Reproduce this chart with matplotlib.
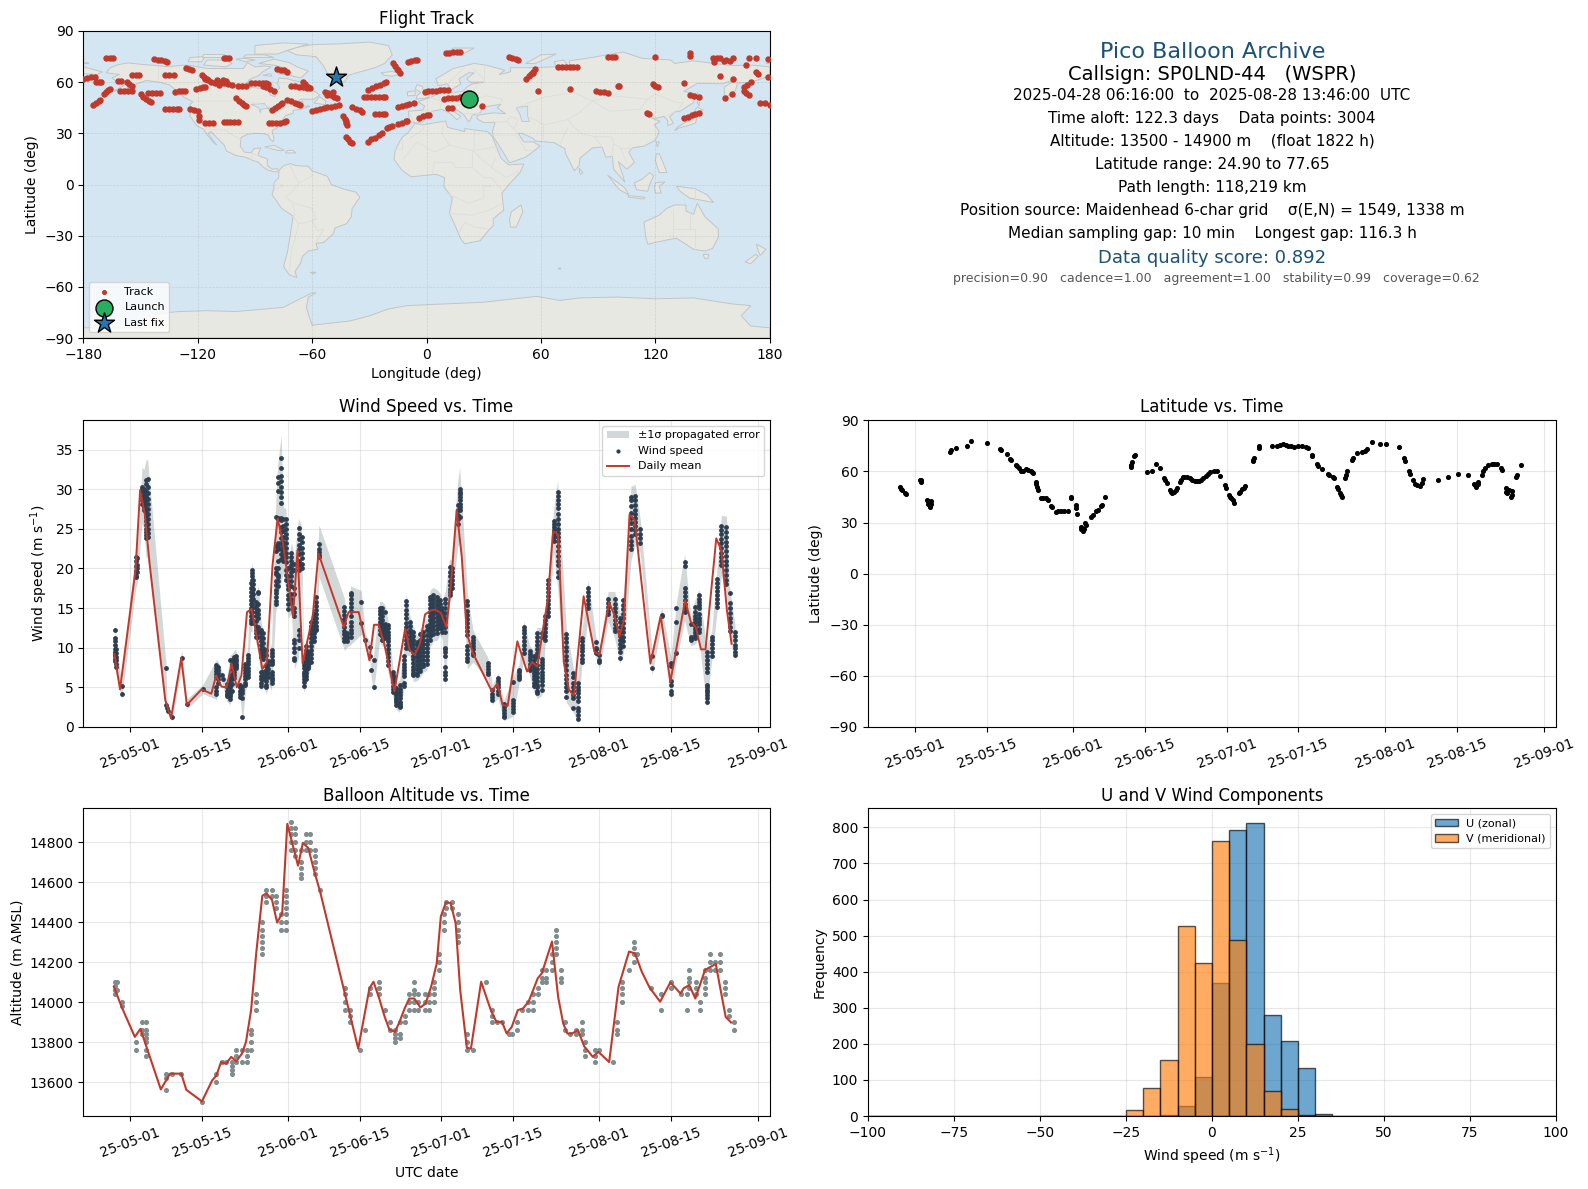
import numpy as np
import matplotlib
matplotlib.use('Agg')
import matplotlib.pyplot as plt
import matplotlib.dates as mdates

# track fixes, (lon, lat)
track = [
(-168,74),(-166,74),(-164.6,74),(-143,73.6),(-141,73.2),(-139,72.8),(-137,72.2),(-136,72),(-106.4,74),(-105,74),(-103.6,74),
(-180,61.7),(-178,62.2),(-176,62.8),(-174,63.3),(-173.4,60),(-172,60),(-170.5,60),(-162,60.5),(-160,60.5),(-157,60),(-156,59.2),(-154.6,58),
(-154.4,64),(-152.5,64),(-150.8,64),(-137,64),(-135,64),(-132.5,64),(-126,68.5),(-124.5,67.8),(-123,67),(-118,64),(-116.5,63),(-115,62),
(-116,61.7),(-114.5,61),(-113,60.2),(-111,59.4),(-110,61),(-108,60),(-106,59.5),(-104,59),(-102,58.4),(-109,58.6),(-107,61),(-105,60.5),(-99,58),(-97,58),(-94.6,58),
(-92,59.4),(-90,59.4),(-88,59.4),(-86,59.4),(-84,59.4),(-83,59.2),(-85.6,58),(-84,57),(-82,56),(-80,55),
(-78.5,68),(-76.5,67.4),(-75,67),(-73,66),(-71,58),(-69,57.8),(-67,57.3),(-65,57),(-62.5,56.5),(-65,60),(-64,59),(-63,58),(-62,57),(-61,56.5),
(-53,54.5),(-51.5,53.5),(-50,52.5),(-48.5,51.5),(-47,50.6),(-52,52.5),(-49,54),(-60,43.3),(-58,43.8),(-56,44.2),(-54,44.8),(-52,45.3),(-50,45.7),(-48,46.2),(-46,46.7),
(-73,49.6),(-71,49),(-69,48),(-67.5,47.2),(-66.6,46.7),(-81,43.7),(-79.5,45),(-78,46),(-76.5,47),(-75.6,47.6),
(-100,50.6),(-98.5,49),(-97,48),(-95.5,46.8),(-94.6,46),(-137,44.3),(-135,44.3),(-133,44.3),(-131,44.3),(-130,44.3),(-124,44),(-122,43.8),(-120,43),(-119.5,40),(-119.5,38),
(-116,36),(-114,36),(-112,36),(-106.4,36.5),(-104.5,36.5),(-103,36.5),(-101,36.5),(-99,36.5),(-82.7,36),(-81,36),(-79,36),(-77,36.3),(-75,36.8),(-73.7,37),
(-150,53),(-148.5,51.5),(-147,50),(-145.5,49),(-144.4,48.6),(-146,53.5),(-144,53.5),(-142,53.5),(-140,53.5),(-160.5,55),(-158.5,55),(-156.5,55),(-154.6,55),
(-132,54.5),(-130,54.8),(-128,55),(-126.6,55),(-121,56),(-119,56.5),(-117,57),(-116,57.4),(-169,53),(-168,54.5),(-167,55.5),(-165.8,56),(-175,46.7),(-173.5,48),(-172,49),(-171,49.6),
(-43.6,40),(-43,38.5),(-42.5,37),(-42,36),(-41.5,35),(-42,28),(-41,26.5),(-40,25),(-39,24.2),(-39,45.3),(-37,44.5),(-35,43.5),(-34,42.8),
(-30.5,25),(-29,26.5),(-27,27.5),(-25,29),(-23.4,30),(-21,33),(-19.5,33.7),(-18,34.4),(-15,35.5),(-13,36.2),(-11,37),(-10.3,37.3),(-4,39),(-2,40),(0,40.5),(1.5,41),
(-27,41.4),(-25,41.4),(-23,41.4),(-22,41.4),(-15,45.7),(-13,46.2),(-11,46.7),(-9,47.2),(-6.7,47.6),(-33,51.2),(-31,51.2),(-29,51.2),(-27,51.2),(-25,51.2),(-23,51.2),(-22,51.2),
(-30.5,55.4),(-28.5,56.5),(-26.5,57.5),(-24.5,58.5),(-22.5,59.5),(-21.5,60),(-17.5,71),(-16.5,69.5),(-15.5,68),(-15,67),(-14,65.6),(-9.6,72),(-8,72.3),(-6,72.8),(-4.9,73),
(-0.9,54.5),(1,54.6),(3,54.8),(5,55),(7,55.2),(9,55.3),(11,55.4),(9.4,50),(11.5,50.5),(13.5,50.8),(15.5,51),(17.5,51.2),(19.3,51.2),(11,44.7),(13.4,45),(29.3,46),
(10,77),(12,77.3),(14,77.5),(16,77.6),(17.4,77.65),(43,75),(45,74.2),(47,73.5),(48,73),(52,62),(53.5,63.5),(55,64.8),(56,66),(57,68),(56,65.5),
(69,68.7),(71,68.7),(73,68.7),(75,68.7),(77,68.7),(79,68.7),(58.3,54.7),(75,56),(89,54.7),(91,54.3),(93,54),(95,53.5),(95,75),(97,75),(99,75),(100.5,58),(101,57.5),
(119,59),(120,58),(121.4,57.4),(120,75),(115.5,42),(116.5,41.5),(135,39),(137,39.7),(139,40.5),(141,41.3),(143,42),(138,52.5),(140,52),(142.7,51.5),(135,59.4),(138,77),(138.3,75.5),
(150,74),(151,72),(152.5,74),(154,74),(156,72.5),(157,73),(159,72.5),(160.5,74),(169,74.4),(173,74),(179,73.4),(154,63.6),(160.5,61.7),(167.6,70),(173,66),(174,65),
(166.5,57.4),(168,58.5),(170,60),(166.5,55),(167.5,53.5),(169,52.5),(156.3,51),(160,53),(175,48),(177.5,47.5),(180,46.7),(179,63),
]
launch = (22.2, 50.0)
last_fix = (-47.6, 63.3)

# coastline outlines for the base map, (lon, lat)
north_america = [(-168,65.5),(-166,68.3),(-162,70.2),(-156.5,71.3),(-150,70.5),(-141,69.7),(-135,69),(-128,70),(-124,69.8),(-115,68),(-108,68),(-100,68),(-96,68),(-94,71.5),(-90,69),(-85,69.5),(-81.5,69),(-86,66),(-88,64),(-93,61.5),(-94.5,59),(-92.5,57),(-88,56.5),(-82.5,55),(-82,52.5),(-79.5,51.5),(-79,54.5),(-77,56.5),(-78,59),(-77.5,62.4),(-73,62),(-70,61),(-65,60),(-62,57),(-56,52.5),(-59,50),(-66,50),(-70,47),(-65,49),(-64.5,46),(-61,46),(-66,44),(-70,43.5),(-70,41.7),(-74,40.5),(-76,37),(-76,35),(-81,31.5),(-80,27),(-80.5,25.2),(-82,26.5),(-83,29),(-85,29.7),(-89.5,30),(-94,29.5),(-97.3,27.5),(-97.7,22.5),(-95.5,19),(-92,18.5),(-90.5,21),(-87,21.5),(-88.5,17),(-83.5,15),(-83.5,11),(-81,9),(-78,9.3),(-77.5,7.5),(-80,7.5),(-83,8.3),(-86,10.5),(-88,13),(-92,14.5),(-95,16),(-100,17),(-105,19.7),(-106,23),(-110,27.5),(-113,31),(-114.7,30),(-110,23),(-112,25),(-115,29),(-117,32.5),(-120.5,34.5),(-124,40),(-124,47),(-122.5,48.5),(-127,51),(-131,55),(-135,58.5),(-140,60),(-147,61),(-152,59),(-158,56),(-164,54.7),(-158,58.5),(-162,60),(-165,62.5),(-161,64.5)]
greenland = [(-73,78.5),(-68,80.5),(-60,82),(-45,82.5),(-30,83.5),(-20,81.5),(-18,76),(-22,71),(-27,68.5),(-35,66),(-41,64),(-43,60),(-48,61),(-52,65),(-54,69.5),(-58,75),(-68,76)]
south_america = [(-77.5,8),(-75,11),(-71.5,12.2),(-68,11),(-62,10.7),(-60,8),(-52,4.8),(-50,0),(-44,-2.5),(-37,-4.5),(-35,-7.5),(-39,-14),(-39.5,-19),(-42,-23),(-48,-25.5),(-49,-29),(-54,-34),(-58,-34.5),(-57,-38),(-62,-39),(-65,-42),(-66,-46),(-69,-51),(-68,-54.5),(-72,-53),(-75,-48),(-73,-40),(-71.5,-30),(-70,-18.5),(-76,-14),(-81,-6),(-80,-2),(-80,1),(-77.5,4)]
africa = [(-6,35.8),(-2,35),(10,37.2),(11,33.5),(20,31),(20,32.8),(25,32),(32,31),(34.5,28),(37,21),(39,15.5),(43,11.5),(51,12),(49,7),(44,1),(39.5,-5),(40.5,-15),(35,-20),(35,-24),(32.5,-27),(28,-33),(20,-34.8),(18,-32),(14.5,-23),(12,-17),(13.5,-8),(9,-1),(9.5,4),(5,6),(-4,5),(-8,4.5),(-13,8.5),(-17,14.7),(-16.5,20),(-13,27.5),(-10,30)]
eurasia = [(-9,37),(-9.5,43),(-2,43.5),(-1,46),(-4.5,48.5),(2,51),(8,54),(8.5,57),(11,56),(10,54),(14,54),(19,54.5),(21,57),(24,59),(30,60),(23,60),(21,62),(25,65.5),(22,65.5),(17,62),(18,59),(13,55.5),(11,59),(6,58),(5,62),(14,68),(25,71),(31,70),(41,67),(38,64.5),(44,66),(44,68.5),(54,68.5),(68,69),(67,72),(72,73),(75,68),(75,72.5),(87,74.5),(103,77.7),(113,74),(128,73),(130,71),(140,72.5),(160,69.7),(170,70),(180,69),(180,65),(177,62.5),(170,60),(163,59.5),(162,55),(156.5,51),(156,57),(163,62),(155,59),(142,59.3),(135,54.7),(141,53),(140,48),(133,43),(130,42.5),(127.5,39.5),(129.5,36),(126.5,34.5),(126.5,37.5),(124.5,40),(121,39),(118,39),(122.5,37),(119.5,35),(122,31),(120,26),(114,22.5),(108,21.5),(106,19),(109,13),(105,9),(100.5,13.5),(103,5),(104,1.3),(100.5,6),(98,9),(97.5,16.5),(94,16),(92,22),(87,21.5),(80.5,15.5),(80,11),(77.5,8),(73,18),(72.5,21),(67,24.5),(57,25.5),(56,27),(50,30),(48,30),(51,25),(56,25),(59.5,22.5),(52,16),(43.5,12.7),(39,21),(35,28),(34.5,31),(36,36.5),(30,36.3),(26.5,38.5),(26.5,40.5),(29,41),(35,42),(41.5,41.5),(37,45),(39,47),(33,46),(30,45.5),(28,42),(24,40.7),(23,38),(22,36.7),(19.5,41),(13.5,45.5),(12.5,44),(18,40),(16,38),(12,42),(8,44),(3,43),(0,39.5),(-2,36.7),(-5.5,36)]
chukotka = [(-180,69),(-175,67.5),(-170,66),(-173,64.5),(-180,65)]
australia = [(114,-22),(122,-18),(126,-14),(130,-12),(136,-12),(136,-15.5),(140,-17.5),(142,-11),(146,-19),(153,-26),(153,-31),(150,-37.5),(146,-39),(140,-38),(136,-35),(131,-31.5),(124,-33),(116,-35),(115,-31)]
antarctica = [(-180,-84),(-150,-84),(-145,-76),(-130,-74.5),(-115,-74),(-100,-74.5),(-85,-73),(-75,-72),(-68,-68),(-60,-63.5),(-58,-63.5),(-62,-66),(-63,-72),(-62,-76),(-60,-82.5),(-40,-80),(-30,-77),(-20,-73),(-10,-71),(10,-70),(30,-69),(50,-66.5),(58,-65.6),(70,-68),(80,-66.5),(100,-66),(120,-67),(140,-66.5),(160,-70),(170,-71),(165,-77),(170,-83),(180,-84),(180,-90),(-180,-90)]
islands = [
[(-80,73.5),(-72,71.5),(-68,69),(-62,66.5),(-66,62.5),(-72,64),(-78,65),(-73,68),(-80,70),(-88,71)],
[(-117,70),(-105,69),(-102,71),(-106,73),(-115,73)],
[(-90,76.5),(-78,76.5),(-72,79),(-62,82.3),(-75,83),(-90,81.5)],
[(-125,72),(-118,72),(-116,75),(-124,74.5)],
[(-96,74.5),(-80,74.5),(-85,76),(-95,76)],
[(-118,75),(-106,75),(-106,76.5),(-117,76.5)],
[(-100,73.5),(-95,72),(-90,73),(-95,74)],
[(-59,47.7),(-53,46.8),(-53,49),(-56,51.5)],
[(-86,64),(-81,63.5),(-82,65)],
[(-24,65.5),(-18,66.3),(-14,65),(-18,63.5),(-22,64)],
[(-5.5,50),(1,51),(1.5,53),(-2,56),(-2,57.5),(-5,58.5),(-6,56),(-3,54),(-5,52)],
[(-10,52),(-6,52.2),(-6,55),(-10,54.2)],
[(12,78),(20,77),(25,80),(14,80)],
[(52,71),(57,71),(68,76.5),(60,76)],
[(-85,22),(-80,23),(-74.5,20),(-78,20)],
[(-74,18.5),(-68.5,18.5),(-70,20),(-73,20)],
[(49.5,-12),(50.5,-16),(47,-25),(44,-25),(43.5,-20),(44.5,-16)],
[(142,54),(143,50),(143,46),(142,48)],
[(130,31.5),(132,34),(136,36.5),(139.5,38.5),(140.5,41),(142,40),(141,36),(137,34.5),(132,33)],
[(140,42),(145,43.5),(142,45.5)],
[(120.5,25),(122,25),(121,22)],
[(120.5,18),(122,18),(124,13),(126,7),(122,7),(120,14)],
[(109,1),(113,3),(117,7),(119,5),(117,0),(116,-4),(110,-3)],
[(95,5.5),(104,-2),(106,-6),(101,-3)],
[(105.5,-6.5),(114.5,-7.5),(114,-8.5),(106,-7.5)],
[(120,1),(125,1.5),(122,-1),(123,-5),(120,-5),(119.5,-2)],
[(131,-1),(141,-2.5),(147,-6),(150.5,-10.5),(143,-9),(138,-8),(133,-4)],
[(145,-41),(148,-41),(147.5,-43.5),(146,-43.5)],
[(173,-35),(178,-38),(175,-41.5),(174,-39)],
[(172.5,-41),(174,-42),(170,-46.5),(167,-45.5)],
[(80,9.5),(82,7),(80.5,6)],
[(-61,-51.5),(-58,-51.5),(-59,-52.3)],
[(69,-49),(70.5,-49),(70,-49.8)],
[(-180,71),(-178,71.5),(-177,71)],
[(178,71),(180,71.5),(180,70.8)],
]
caspian = [(47,45),(53,46),(53,40),(54,37),(50,37),(49,41)]
great_lakes = [(-92,47),(-85,47.5),(-84,46),(-82,43),(-79,43.5),(-82,45),(-87,44),(-87,42),(-88,45)]
# faint country borders
borders = [
[(-141,60),(-141,69.7)],[(-123,49),(-95,49),(-83,46),(-79,43),(-75,45),(-67,47)],[(-117,32.5),(-106,32),(-97,26)],
[(-92,14.5),(-91,18),(-88.5,17)],[(-72,12),(-67,1),(-70,-4),(-74,-7),(-70,-11),(-69,-18)],[(-60,8),(-60,5),(-67,1)],[(-70,-18.5),(-67,-23),(-71,-40),(-72,-51)],
[(-58,-20),(-60,-22),(-57,-27),(-54,-26),(-58,-34)],[(-69,-11),(-60,-14),(-58,-20),(-62,-22),(-67,-23)],[(-80,-3),(-75,-1),(-78,1)],
[(-9,27),(-2,32),(-1,35)],[(-17,21),(-13,21),(-13,27)],[(9,37),(8,30),(12,23),(4,19),(-5,25),(-12,15)],[(25,32),(25,20),(37,22)],[(12,23),(24,20),(24,10),(15,10),(14,13),(4,13),(3,6)],
[(24,20),(34,10),(36,15)],[(34,10),(42,4),(48,8)],[(24,10),(30,4),(34,4),(40,-4)],[(12,-6),(22,-11),(30,-8),(30,-1),(34,-1)],[(12,-17),(24,-18),(33,-15),(40,-11)],[(17,-28),(20,-22),(25,-25),(32,-26)],
[(-2,43.5),(3,43)],[(-9,42),(-7,37)],[(2,51),(8,49),(7,44)],[(6,54),(7,49),(13,48),(15,51),(14,54)],[(15,51),(24,50),(24,54),(21,55)],[(28,60),(24,54)],[(24,50),(22,48),(29,45)],[(14,46),(22,48)],[(20,42),(28,42)],
[(30,60),(30,70)],[(24,68),(30,62)],[(12,60),(20,69)],[(24,50),(32,52),(40,50),(38,47)],[(47,45),(61,51),(77,54),(87,49)],[(53,40),(62,35),(74,38),(80,42),(87,49)],[(87,49),(98,52),(116,50),(120,53),(131,48),(135,48),(131,43)],[(87,49),(96,43),(112,44),(116,50)],
[(74,38),(78,33),(81,30),(88,28),(97,28),(98,24),(102,21),(108,21.5)],[(61,25),(61,35)],[(70,24),(74,33)],[(88,28),(92,22)],[(36,36.5),(42,37),(48,30)],[(42,37),(44,40),(48,38),(46,33)],[(35,29),(47,29),(52,20),(55,20)],[(98,24),(97,16)],[(102,21),(105,12)],[(125,40),(130,42.5)],
[(141,-2.5),(141,-9)],[(129,-14.5),(129,-31)],[(138,-16),(138,-26),(141,-26),(141,-38)],[(129,-26),(138,-26)],
]

wind_cols_may = [
(-3.0,1.4,[12.2,11.2,10.9,10.3,9.9,9.5,9.2,8.9,8.6,8.3]),(-2.8,1.2,[9.8,9.3,8.8,8.4,8.0,7.6]),(-1.7,0.9,[5.2,4.2]),
(1.1,2.0,[21.5,20.9,20.3,19.7,19.1,18.9]),(1.4,2.0,[21.3,20.5,20.0,19.6]),(2.3,2.5,[30.3,30.0,29.6,29.0,28.6,28.2]),(2.7,2.5,[30.0,29.6,29.2,28.7,28.3,27.8,27.4]),
(3.1,2.5,[31.2,30.6,29.8,29.2,28.6,28.1,27.5,27.0,26.5,26.0,25.5,25.0,24.6,24.2,23.8]),(3.4,2.5,[31.3,30.3,29.5,28.8,28.2,27.5,26.9,26.3,25.6,25.0,24.5,24.0]),
(7.0,1.0,[7.4,2.8]),(7.2,0.6,[2.35]),(7.5,0.6,[2.05]),(8.2,0.6,[1.2]),(10.1,1.5,[8.7]),(11.1,0.9,[2.9]),(14.2,0.8,[4.75]),
(16.9,1.0,[7.8,7.5,7.1,6.7,6.3,5.0,4.6,4.2]),(17.2,1.0,[7.6,7.2,6.8,6.4,6.0,5.5]),(17.9,0.9,[6.6]),(18.1,0.9,[6.0]),(18.9,0.9,[5.4,5.0,4.6,4.2,3.9]),
(19.6,1.0,[8.4,6.4,6.0,5.5,5.0,4.5,4.2,3.9,3.5]),(20.0,1.0,[8.5,7.9,7.3,6.7,6.1,5.4,4.6]),(20.4,1.3,[8.8,8.5,8.1,7.7,7.4,7.0,6.6,6.2]),(20.7,1.3,[8.9,8.6,8.3,8.0,7.7,7.4]),
(21.6,0.9,[5.3,5.0,4.6,4.2,3.8]),(22.0,0.6,[5.1,4.7,4.3,3.7,1.2]),(22.6,1.1,[8.0,7.6,7.2,6.8,6.4,6.0,5.6,5.3]),(23.0,1.2,[9.1,8.7,8.3,7.9,7.5,7.1,6.7,6.3]),
(23.6,1.5,[18.2,17.6,17.0,16.5,16.0,15.5,15.0,14.5,14.0,13.5,13.1]),(23.9,1.5,[19.8,19.4,19.0,18.5,18.0,17.5,17.0,16.5,16.0,15.5,15.0,14.5,14.0,13.5,13.1]),(24.1,1.5,[18.6,18,17.4,16.8,16.2]),
(24.7,1.3,[15.8,15.3,15.0,14.5,14.0,13.4,12.8,12.3,11.8,11.3]),(25.1,1.3,[17.0,16.9,15.5,14.8,14.3,13.8,12.6,12.0,11.4]),
(25.7,1.1,[12.3,11.8,11.3,10.8,10.3,9.8,9.3,8.8,6.9,6.4,6.0,5.6,5.2]),(26.0,1.1,[11.8,11.2,10.6,10,9.5,9,8.6,7,6.5,6]),(26.7,1.2,[9.7,9.1,7.7,7.2,6.8,6.3,5.8,5.3,5.0]),(27.1,1.2,[8.3,7.8,7.3,6.8,6.3]),
(27.7,1.3,[9.7,9.3,8.9,8.5,8.2,8.0,7.0,6.6,6.2,5.9,5.5]),(28.5,1.8,[18.4,17.9,17.3,16.9,16.4,15.9,15.5,20.0,19.5,19.3,22.2,22.8,26.5]),(28.9,2.2,[26.4,23.2,22.9,22.4,21.0,20.0,19.2,18.9,18.4,17.8,31.6,30.8,29.8,26.3]),
(29.6,2.8,[34.0,32.7,31.7,31.0,30.3,29.6,29.0,28.3,26.4,26.1,25.2,24.6,23.9,23.2,22.5,21.8,21.2]),(30.0,2.2,[26.2,25.4,24.7,24.0,23.4,22.8,22.2,21.6,21.0]),
]
wind_cols_jun = [
(30.5,2.0,[26.2,25.6,25.0,24.4,23.8,23.2,22.6,22.0,21.4,20.8,19.8,19.2,18.6]),(31.0,1.6,[20.0,19,18.4,17.9,17.4,16.7,16.1,15.5,14.9]),
(31.6,1.8,[22.0,21.5,21.0,20.5,20,19.5,19,18.4,17.8,16.8,16.2,15.6]),(32.2,1.5,[20.6,19.8,17.5,16.8,15.0,14.5,14.0,11.0,10.6,10.0,9.5,8.7,8.4]),
(33.0,1.8,[25.1,24.4,23.7,23,22.4,21.8,21,20.4,19.8,12.2,11.6,11,10]),(33.6,1.8,[24,23.3,22.6,22,21.3,20.6,20]),(34.0,1.2,[8.2,7.8,7.4,7,6.7,6.4,6,5.7,5.2]),
(34.4,1.2,[10.2,9.7,9.2,8.7,8.2,7.7,7.2,6.8,6.4,6]),(34.9,1.2,[9.5,9.1,8.7,8.3,8,7.7,7.4]),(35.4,1.2,[13.2,12.7,12.2,11.7,11.2,10.7,10.2,9.7,9.2,8.7,8.2]),(36.0,1.3,[14.3,13.8,13.3,12.8,12.3,11.8,11.3,10.8]),
(36.5,1.4,[16.4,15.8,15.3,14.8,14.3,13.8,13.3,12.8,12.4,12.2]),(37.0,2.4,[23.1,22.5,22.1,21.7,21.4]),(42.0,1.6,[15.1,14.6,14.1,13.6,13.1,12.6,12.1,11.7,11.2,10.8]),(42.5,1.2,[11.9,11.5,11.2,10.9]),
(43.2,1.3,[16.9,16.6,16.2,15.7,15.2,14.6,14,13.3,12.8,12.3,11.8,11.3]),(45.3,2.0,[15.8,13.1]),(46.1,1.0,[11]),(47.0,1.0,[10.1,8.9]),(47.2,1.0,[7.2]),(47.7,0.9,[8.5,5.1]),
(48.9,1.2,[15,14.7,14.2,13.7,13.2,12.7,12.2,11.7]),(49.4,1.2,[15,14.5,14,13.5,13,12.5,12,11.5,11]),(50.0,1.2,[14.5,13,12.6,12.2,11.7,11.2]),(50.5,1.1,[12.9,12.5,12,11.6,11.2,10.8,10.3,9.8,9.3,8.8,8.3,7.8]),
(51.5,0.9,[6.9,6.6,6.3,6,5.7,5.2,4.8,4.4]),(52.2,0.9,[4.9,4.6,4.3,4,3.7,3.4,3.1,2.8]),(52.8,0.9,[5.3,4.8,4.4,4,3.6,3.2,2.9,2.7,2.5]),(53.6,1.0,[8.9,8.5,8,7.6,7.2,6.8,6.4,5.5,5.2]),
(54.1,1.3,[15.9,15.4,14.8,14.3,13.7,13.1,12.6,12,11.5,11,10.5,10]),(54.8,1.2,[13.3,12.8,12.3,11.8,11.3,10.8,10.3,9.8]),(55.5,1.1,[12,11.5,11,10.5,10,9.5,9,8.6,8.1,7.6,7.2,6.8,6.5]),
(56.2,1.1,[10.7,10.3,9.8,9.3,8.8,8.3,7.8,7.3,6.8,6.6]),(56.9,1.1,[11.7,11,10.5,10,9.5,9,8.5,8,7.5,7.1]),(57.5,1.1,[12,11.5,11,10.5,10,9.5,9,8.5,8,7.7]),(58.2,1.2,[12.8,12.2,11.6,11,10.5,10,9.5,9,8.5,8]),
(58.8,1.3,[16.4,16,15.5,15,14.5,14,13.5,13,12.5,12,11.5,11]),(59.4,1.3,[16.7,16.2,15.7,15.2,14.7,14.2,13.7,13.2,12.7,12.2,11.7]),(60.2,1.3,[16.4,15.9,15.4,14.9,14.4,13.9,13.4,12.9,12.4,11.9]),(60.7,1.3,[16,15.5,15,14.5,14,13.5,13,12.5]),
]
wind_cols_jul = [
(61.2,1.3,[15,14.5,14,13.5,13,12.5,12]),(61.8,1.5,[16.2,15.6,15,14.4,13.8,13.2,12.6,12,10,9.9,9.5,9,7.6,7,6.5,6]),(62.6,1.5,[20.2,19.6,19,18.4,17.9,17.4,17,16.6]),(63.0,1.5,[20,19.5,19,18.5,18,17.5]),
(64.2,3.0,[28,27.4,26.8,26.2,25.6]),(64.6,2.8,[30,29.7,29.4,29,28.6,28.2,27.8,27.4,26.5]),(66.1,1.4,[15.9,15.4,14.6,14.1,13.6,13.1,12.6,12.1,11.6,10.2,9.7,9.2,8.7,8.3]),(67.2,1.3,[11.3,11,10.6,10.2,9.8,9.4,9.1]),
(70.1,1.0,[8.1,7.7,7.3,7,6.7]),(71.0,0.8,[4.7,4.2,3.8,3.4]),(72.1,0.8,[6.2,5.8,5.4,5,4.6,4.2]),(73.2,0.6,[2.9,2.5,2.1,1.8,1.4,1.2]),(75.0,0.8,[5.7,3.4,3,2.6,2.3,1.9]),(76.2,0.9,[7.2,6.9,6.6,6.3,6]),
(77.2,1.1,[12.6,12.2,11.8,11.3,10.8,10.3,9.8,9.3]),(78.3,1.0,[9.6,9.2,8.8,8.4,8,7.6,7.2]),(79.1,1.0,[8.9,8.4,8,7.6,7.2,6.8,6.4,6,5.6,5.2]),(79.8,1.0,[7.8,7.3,6.8,6.3,5.8,5.3,5,4.6,4.3,11.9,11.4,10.8,10.3,9.8,9.3,8.8]),
(80.7,1.0,[8.6,8.2,7.8,7.4,7,6.6,6.2,5.8,5.3,4.7,11.8,11.4]),(81.3,1.2,[14,13.5,13,12.5,12,11.5,11]),(82.0,1.5,[18.5,18,17.5,17,16.5,16,15.5,15,14.5,14]),(83.0,2.0,[26,25.6,25.2,24.8,24.4,24,23.5]),
(83.8,2.0,[29.7,29.2,28.7,28.1,27.6,26.9,26.2,25.6,25,24.5,24,23.5,22.9,22.2,21.6,21,20.5,19.5,18.9]),(85.5,1.0,[11.7,11.2,10.7,10.1,9.6,9,8.4,7.8,7.2,6.6,6,5.5,5,4.5,3.8]),(86.9,0.8,[6.8,6.3,5.5,5,4.5,4,3.6,2.4]),
(87.7,0.6,[5.6,5.1,4.7,4.3,3.8,3.3,2.4,2,1.5,1]),(88.5,1.1,[11.2,10.8,10.4,10,9.6,9.1,8.6,8.2]),(89.8,1.4,[17.5,17,16.5,16,15.5,15]),(91.3,1.0,[10.7,10,9.8,9.4]),
]
wind_cols_aug = [
(92.0,1.0,[9.1,8.5,8.2]),(93.7,1.3,[16.2,15.7,15.2,14.7,14.2]),(95.0,1.3,[16.2,15.5,15,14.5,14,13.5,13,12.5,12.1]),(96.0,1.0,[13.7,13.2,12.6,12,11.5,11,10.5,10,9.5,8.7]),
(96.7,1.2,[16,15.4,14.9,14.3,13.7,13.1,12.5,12,11.4,10.8,10.2]),(98.2,2.0,[29,28.6,27.9,27,26.4,25.8,25,24.1,23.5,23,22.5]),(99.0,2.0,[29.2,28.6,28,27.4,26.9,26.4,25.9,25.4,24.9,24.4]),(100.0,1.8,[25,24.4,23.8,23.2]),
(102.3,1.2,[8.9,7.4]),(104.2,1.4,[14.1,14]),(106.0,1.0,[8.1,7.7,5.8,5.3,4.6,4.2]),(107.1,1.2,[15,13.3,9.3]),(108.7,1.5,[20.8,20.3,17.5,17,16.5,16,15.5,15,14.5]),(109.9,1.1,[13,11.4,11.2,11]),
(110.7,1.1,[15.2,14.5,14,13.6,13.2,12.8,12.4,12,11.6,11.2]),(111.5,1.1,[16.6,16.2,15.8,15.4,15,14.2,13.8,13.4,13,12.4,12]),(113.0,0.9,[9.5,9,8.5,8,7.5,7,5.3,5,4.7,4.4,4,3.6,3.2]),(114.0,1.0,[11.3,11,10.5,10,9.5,9]),
(115.0,1.4,[18.7,18.2,17.7,17.2,16.7,16.2,15.7,15.2]),(115.9,2.0,[25.3,24.8,24.3,23.7,23.2,22.6,22,21.5,21,20.5]),(116.9,2.0,[25.2,24.6,24,23.4,22.8,22.2,21.6,21,20.4,19.8,19.2,18.6,18.1]),(117.5,1.2,[16.9,15.6,15,14.4,13.8,13.2,12.6,12.1]),(118.6,1.1,[12,11.5,11,10.4,10,9.5,9.1]),
]
wind_mean = [
(-3.1,9.2),(-2.0,4.75),(1.04,19.8),(1.94,29.9),(2.85,26.9),(3.8,20.6),(6.87,3.4),(8.0,1.1),(10,8.7),(11.1,2.8),(14,4.75),(15.9,4.2),(16.85,6.5),(17.9,5.1),(18.9,5.0),(19.9,8.0),(20.9,5.0),(21.8,6.5),(22.9,14.5),(23.8,14.9),(24.8,11.4),(25.9,7.3),(26.8,8.2),(27.9,20.4),(28.9,26.3),(29.9,23.4),(30.85,19),(31.9,13.9),(32.8,22.3),(33.8,8),(35.8,14.1),(36.9,21.9),(41.9,12.6),(42.8,14.5),(44.8,14.5),(46.9,8.4),(47.8,12.9),(48.7,12.9),(49.8,10.5),(51.8,4.5),(53.9,12.4),(54.8,9.7),(55.8,9.1),(56.8,10.5),(57.8,14.2),(58.9,14.7),(59.8,14.8),(60.9,14.4),(62,12.6),(62.9,18.1),(64,27.4),(65,21.5),(66,11.8),(67.2,9.3),(70.9,4.5),(72,5.5),(73,2.8),(74,2.65),(75.9,10.8),(77.8,7),(78.8,8.2),(79.8,7.6),(80.8,11.8),(81.9,16.2),(82.9,24.7),(83.9,24.3),(85,8.2),(86,4.7),(87,4),(88.9,16.5),(91,9.5),(92,9.1),(93.9,15.7),(94.9,14.2),(95.9,11.4),(96.8,13.5),(97.9,26.8),(98.9,26.1),(102,8),(104,14),(105.9,5.7),(108.8,16),(109.9,13.3),(110.9,12.6),(111.9,9.8),(112.8,9.8),(114.9,23.8),(115.9,22.3),(117,14.7),(117.9,10.5),
]

lat_points = [
(-2.9,50.7),(-2.75,49.9),(-2.6,49.1),(-1.7,46.6),(-1.9,47.2),(1.0,55),(1.1,54.7),(1.2,53.8),(2.3,43.2),(2.5,42.4),(3.2,42.8),(2.6,40.9),(2.9,39.3),(3.1,41),
(6.9,71.4),(7.1,72.4),(8.1,73.8),(10.1,75.2),(11,77.65),(14.1,76.8),(16.9,72.8),(16.7,73.1),(17.9,70.3),(18.8,66.5),(18.6,67),(19.8,64),(20,63.4),(20.4,61.8),(20.8,60.4),(21.2,60.5),(21.7,61.4),(22.1,61),(22.6,60.4),(23,59),(22.8,59.6),
(23.6,53.7),(23.7,52.5),(23.9,51.1),(24,49.1),(24.6,44.2),(25,44.6),(25.6,44.6),(26,43.2),(26.6,39.9),(26.8,38.9),(27.6,36.3),(27.9,36.5),(28.6,36.9),(29.2,36.9),(29.9,36.9),
(30.6,44.6),(30.5,45),(31.4,40.3),(31.5,38.5),(31.7,35.3),(32.5,27.4),(32.4,26),(32.8,24.9),(33.1,26),(33.4,28.4),(33.3,30),(34.5,33.4),(34.8,34.5),(35.4,36.7),(35.7,37.5),(36.5,40.3),(36.3,39.5),(37.2,45.2),
(42.3,64),(42.2,62.5),(42.5,65.5),(43.1,69.5),(42.9,68.8),(45.3,59.6),(46.3,60.4),(47.1,64.3),(47.9,62),(48.8,56),(49,55),(49.2,53),(49.9,49.1),(50.1,48),(50.3,47.2),(50.7,47.8),(51,49.1),(51.2,50),
(51.8,54),(52,55),(52.4,56.5),(52.7,57),(53.2,56.6),(53.8,56),(54.2,55),(54.7,54.5),(55.1,54.3),(55.5,54.5),(56,55),(56.4,56),(56.9,57.2),(57.3,58.4),(57.8,59.5),(58.4,60),(59,60),(59.7,57.4),
(60.6,52),(60.8,50),(61.5,46.2),(61.7,45),(61.9,44.2),(62.5,41.6),(62.2,43),(63.4,47.2),(63.6,48),(64,49.5),(64.5,51.5),(64.3,50.5),(66.1,65.9),(66.2,66.8),(66.4,67.9),(67.2,74),(67.3,75.2),
(69.9,75.2),(70.9,75.2),(71.4,75.4),(72,75.8),(72.5,75.4),(72.9,75.2),(73.5,74.8),(74.2,74.4),(75,75),(75.8,75.2),(76.4,74.6),(76.8,73.8),(77.7,68.9),(77.6,69.8),(78.7,64.3),(78.9,63),(79.7,61.4),(80.7,58.4),(80.9,58),(81.9,56),(81.8,56.6),
(82.5,50.7),(82.7,49.4),(83.2,47.6),(83.3,46),(83.5,44.8),(84.2,56),(84.4,58),(84.6,60),(85.5,66.9),(85.7,68),(86.4,70.9),(87.4,71.4),(88,72),(88.5,73.2),(89.4,77.2),
(91,76.2),(92.2,76.2),(94.7,74.4),(95.7,67.9),(95.8,66.4),(96.6,60.4),(96.8,58.4),(97.4,54.7),(97.9,52.7),(98.2,52),(98.8,51.5),(99.2,53),(99.4,55.5),
(102.4,55),(104.2,56.6),(106.2,58.6),(108.1,58),(109.4,52.7),(109.6,51.8),(109.8,51.1),(110.2,52.7),(110.1,54),(111,58),(111.1,60),(111.6,62),(112,63.6),(112.8,64.3),(113.3,64.3),(113.9,64.5),(114.8,61),(114.6,62),
(115.6,50),(115.7,48),(115.9,47.2),(116.3,49),(116.6,44.8),(116.7,46),(116.8,48.6),(117.7,58),(117.6,57),(118.6,64),
]

alt_cols = [
(-3,[14100,14080,14060,14040]),(-2.6,[14100,14060]),(-1.7,[14000,13980]),(1.1,[13800,13760]),(2.3,[13900,13860,13840]),(3,[13900,13860,13840,13820,13800,13760,13730]),
(7.1,[13640,13620,13560]),(8.1,[13640]),(10,[13640]),(14.1,[13500]),(16.9,[13640,13600]),(18,[13700]),(18.7,[13700]),(20,[13700,13680,13660,13640]),(20.8,[13760,13730,13700]),(21.9,[13760,13700]),(22.8,[13760,13730,13700]),
(23.7,[13860,13840,13800,13760]),(24.7,[14040,14000,13960]),(25.8,[14400,14360,14330,14300,14270,14240]),(26.7,[14560,14530,14500]),(27.8,[14560,14530]),(28.6,[14530,14500,14470]),(29.5,[14440,14400,14360]),(30.6,[14560,14530,14500,14470,14440,14400,14360]),
(31.5,[14900,14870,14840,14800,14760]),(32.4,[14870,14840,14800,14760,14730]),(33.4,[14760,14700,14670,14640,14620]),(34.5,[14840,14800,14760]),(35.3,[14840,14800,14760]),(36.3,[14760,14730,14700,14670,14640]),(37.3,[14560]),
(42.1,[14070,14040,14000,13960]),(43.1,[13960,13930,13900]),(45.1,[13760]),(46,[13860]),(47.1,[14070,14040]),(48.8,[14100,14070,14040]),(50,[13960]),(51,[13900,13860]),(51.9,[13860,13840,13820,13800]),(52.9,[13900,13840,13820]),(53.8,[13930,13900]),
(54.7,[14040,14000,13960]),(55.6,[14100,14060,14040,14000,13960]),(56.4,[14040,14000,13960]),(57.7,[14040,14000,13960]),(58.6,[14040,14000,13960]),(59.5,[14100,14070,14040,14000]),(60.6,[14240,14200,14160]),(61.5,[14440,14400,14360]),(62,[14500,14470]),(63,[14500,14470]),(64.2,[14440,14400,14360,14330,14300]),
(66.1,[13840,13800,13760]),(67.3,[13760]),(69.7,[14100]),(71,[13960,13930,13900]),(72,[13900]),(72.9,[13900]),(74.2,[13840]),(74.9,[13840]),(75.8,[13900,13860]),(76.8,[13960]),(78,[14000,13960]),(79,[14040,14000,13960]),(79.9,[14070,14040]),
(80.7,[14160,14120,14100]),(81.6,[14160,14120,14100]),(82.6,[14240,14200,14160]),(83.5,[14360,14330,14300,14270,14240]),(84.4,[14160,14120,14100]),(85.3,[13900,13860]),(86.2,[13840]),(87.4,[13860,13840]),(88.5,[13900,13860,13840]),(89.2,[13800,13760,13730]),
(91.1,[13760,13730,13700]),(92,[13760]),(94.6,[13700]),(95.5,[13900,13860,13840]),(96.5,[14100,14070,14040,14000]),(97.7,[14160]),(98.7,[14300,14270,14240,14200]),(99.4,[14240]),(102.2,[14070]),(104,[14040,13960]),(106,[14100,14070]),(108,[14040]),(109.1,[14040,13960]),
(109.6,[14160,14120,14100,14070]),(110.9,[14100,14070,14040]),(111.8,[14000,13960]),(112.7,[14160,14120,14100,14070,14040]),(113.7,[14240,14200,14160]),(114.7,[14200,14160]),(115.7,[14240,14200,14160]),(116.6,[14100,14070,14040]),(117.4,[13960,13930]),(118.3,[13900,13860]),
]
alt_mean = [
(-3.2,14077),(-1.7,13977),(0.9,13826),(2,13866),(6,13563),(7.8,13642),(10,13642),(11,13561),(14.06,13503),(16.06,13608),(16.9,13633),(17.8,13700),(18.8,13692),(19.8,13726),(20.8,13704),(21.9,13742),(22.7,13801),(23.7,13960),(24.7,14244),(25.9,14532),(26.7,14544),(27.8,14512),(28.8,14398),(29.8,14445),(30.8,14892),(32.9,14683),(33.85,14797),(34.9,14772),(36,14663),(37.3,14546),(44.7,13767),(46.9,14069),(47.7,14102),(48.8,14020),(49.9,13926),(50.8,13863),(51.9,13851),(52.8,13901),(53.8,13968),(54.7,14018),(55.7,14018),(56.9,13973),(57.9,13993),(59,14077),(60.1,14194),(60.9,14429),(61.9,14499),(62.8,14496),(63.8,14395),(64.7,14060),(66,13772),(66.8,13767),(68.8,14102),(70.7,13960),(71.8,13901),(72.9,13901),(73.8,13843),(74.8,13876),(76,13960),(77,13968),(78.1,14002),(79.9,14119),(80.7,14144),(82.7,14303),(83.9,14026),(84.9,13893),(85.7,13843),(86.6,13843),(87.8,13859),(89,13779),(90.7,13726),(91.8,13751),(93.9,13700),(95.75,14077),(97.8,14253),(98.96,14244),(100.3,14152),(101.8,14074),(103.9,14002),(105.9,14099),(107.9,14043),(108.5,14069),(109.6,14085),(110.8,14018),(112.7,14161),(114.8,14191),(116.75,13926),(117.8,13898),
]

# histogram counts per 5 m/s bin, first bin starts at -100
hist_edges = list(range(-100, 101, 5))
u_counts = [0]*17 + [2,29,109,369,794,811,281,209,133,6] + [0]*13
v_counts = [0]*15 + [18,78,156,528,425,761,489,200,70,19,2] + [0]*14

tick_dates = ['2025-05-01','2025-05-15','2025-06-01','2025-06-15','2025-07-01','2025-07-15','2025-08-01','2025-08-15','2025-09-01']

info_lines = [
    ('Pico Balloon Archive', 16, '#1a5276', 1212.5, 52),
    ('Callsign: SP0LND-44   (WSPR)', 14, 'black', 1212.5, 75),
    ('2025-04-28 06:16:00  to  2025-08-28 13:46:00  UTC', 11, 'black', 1211.5, 95.5),
    ('Time aloft: 122.3 days    Data points: 3004', 11, 'black', 1212, 118.5),
    ('Altitude: 13500 - 14900 m    (float 1822 h)', 11, 'black', 1212.5, 141.5),
    ('Latitude range: 24.90 to 77.65', 11, 'black', 1212.5, 164.5),
    ('Path length: 118,219 km', 11, 'black', 1212.5, 187.5),
    ('Position source: Maidenhead 6-char grid    σ(E,N) = 1549, 1338 m', 11, 'black', 1212.5, 210.5),
    ('Median sampling gap: 10 min    Longest gap: 116.3 h', 11, 'black', 1212.5, 233.5),
    ('Data quality score: 0.892', 13, '#1a5276', 1212.5, 258),
    ('precision=0.90   cadence=1.00   agreement=1.00   stability=0.99   coverage=0.62', 9, '#555555', 1216.5, 278.5),
]

W, H = 1588, 1189
base_day = mdates.date2num(np.datetime64('2025-05-01'))
tick_nums = mdates.date2num(np.array(tick_dates, dtype='datetime64[D]'))


def make_ax(left, right, top, bottom):
    return fig.add_axes([left/W, 1-bottom/H, (right-left)/W, (bottom-top)/H])


def date_axis(ax):
    ax.set_xlim(base_day-9.2, base_day+125.4)
    ax.set_xticks(tick_nums)
    ax.xaxis.set_major_formatter(mdates.DateFormatter('%y-%m-%d'))
    ax.tick_params(axis='x', labelrotation=20)
    ax.grid(True, alpha=0.3)
    ax.set_axisbelow(True)


def band_err(e):
    # small sigmas read too wide once the columns are joined up
    return e if e >= 2.4 else 0.7*e


fig = plt.figure(figsize=(W/100, H/100), dpi=100)

# flight track map
ax1 = make_ax(83.3, 769.8, 31, 338)
ax1.set_facecolor('#d4e6f1')
land = [north_america, greenland, south_america, africa, eurasia, chukotka, australia, antarctica] + islands
for poly in land:
    xs, ys = zip(*poly)
    ax1.fill(xs, ys, facecolor='#e8e8e3', edgecolor='#c2c5c6', lw=0.7, zorder=1)
for poly in [caspian, great_lakes]:
    xs, ys = zip(*poly)
    ax1.fill(xs, ys, facecolor='#d4e6f1', edgecolor='#c2c5c6', lw=0.6, zorder=1)
for line in borders:
    xs, ys = zip(*line)
    ax1.plot(xs, ys, color='#dcdedb', lw=0.6, zorder=1.5)
lons, lats = zip(*track)
ax1.scatter(lons, lats, s=13, color='#c0392b', zorder=3, label='Track')
ax1.scatter([launch[0]], [launch[1]], s=150, color='#27ae60', edgecolor='black', zorder=5, label='Launch')
ax1.scatter([last_fix[0]], [last_fix[1]], s=230, marker='*', color='#1f77b4', edgecolor='black', zorder=5, label='Last fix')
ax1.set_xlim(-180, 180)
ax1.set_ylim(-90, 90)
ax1.set_xticks(range(-180, 181, 60))
ax1.set_yticks(range(-90, 91, 30))
ax1.grid(True, alpha=0.22, lw=0.5, ls='--', color='gray')
ax1.set_title('Flight Track', fontsize=12, pad=5)
ax1.set_xlabel('Longitude (deg)')
ax1.set_ylabel('Latitude (deg)')
leg = ax1.legend(loc='lower left', fontsize=8)
leg.legend_handles[0].set_sizes([7])

# summary text
for txt, size, col, xpix, ypix in info_lines:
    fig.text(xpix/W, 1-ypix/H, txt, fontsize=size, color=col, ha='center', va='center')

# wind speed
ax2 = make_ax(83.3, 769.8, 420.3, 727)
wind_cols = wind_cols_may + wind_cols_jun + wind_cols_jul + wind_cols_aug
band_t = [base_day + c[0] for c in wind_cols]
band_lo = [max(min(c[2]) - band_err(c[1]), 0) for c in wind_cols]
band_hi = [max(c[2]) + band_err(c[1]) for c in wind_cols]
ax2.fill_between(band_t, band_lo, band_hi, color='#4d6266', alpha=0.25, lw=0, label='±1σ propagated error')
wx = [base_day + c[0] for c in wind_cols for v in c[2]]
wy = [v for c in wind_cols for v in c[2]]
ax2.scatter(wx, wy, s=6, color='#2c3e50', zorder=3, label='Wind speed')
md, mv = zip(*wind_mean)
ax2.plot(base_day + np.array(md), mv, color='#c0392b', lw=1.4, zorder=4, label='Daily mean')
date_axis(ax2)
ax2.set_ylim(0, 38.7)
ax2.set_title('Wind Speed vs. Time', fontsize=12)
ax2.set_ylabel('Wind speed (m s$^{-1}$)')
leg2 = ax2.legend(loc='upper right', fontsize=8)
leg2.legend_handles[1].set_sizes([4])

# latitude
ax3 = make_ax(868, 1556, 420.3, 727)
ld, lv = zip(*lat_points)
ax3.scatter(base_day + np.array(ld), lv, s=7, color='black', zorder=3)
date_axis(ax3)
ax3.set_ylim(-90, 90)
ax3.set_yticks(range(-90, 91, 30))
ax3.set_title('Latitude vs. Time', fontsize=12)
ax3.set_ylabel('Latitude (deg)')

# altitude
ax4 = make_ax(83.3, 769.8, 808.3, 1116)
ax_x = [base_day + c[0] for c in alt_cols for v in c[1]]
ax_y = [v for c in alt_cols for v in c[1]]
ax4.scatter(ax_x, ax_y, s=7, color='#7f8c8d', zorder=3)
ad, av = zip(*alt_mean)
ax4.plot(base_day + np.array(ad), av, color='#c0392b', lw=1.5, zorder=4)
date_axis(ax4)
ax4.set_ylim(13430, 14970)
ax4.set_title('Balloon Altitude vs. Time', fontsize=12, pad=5)
ax4.set_ylabel('Altitude (m AMSL)')
ax4.set_xlabel('UTC date')

# u and v histogram
ax5 = make_ax(868, 1556, 808.3, 1116)
ax5.bar(hist_edges[:-1], u_counts, width=5, align='edge', color='#1f77b4', alpha=0.65, edgecolor='black', label='U (zonal)')
ax5.bar(hist_edges[:-1], v_counts, width=5, align='edge', color='#ff7f0e', alpha=0.65, edgecolor='black', label='V (meridional)')
ax5.set_xlim(-100, 100)
ax5.set_ylim(0, 853)
ax5.set_xticks(range(-100, 101, 25))
ax5.grid(True, alpha=0.3)
ax5.set_axisbelow(True)
ax5.set_title('U and V Wind Components', fontsize=12, pad=5)
ax5.set_xlabel('Wind speed (m s$^{-1}$)')
ax5.set_ylabel('Frequency')
ax5.legend(loc='upper right', fontsize=8)

fig.savefig('out.png', dpi=100)
